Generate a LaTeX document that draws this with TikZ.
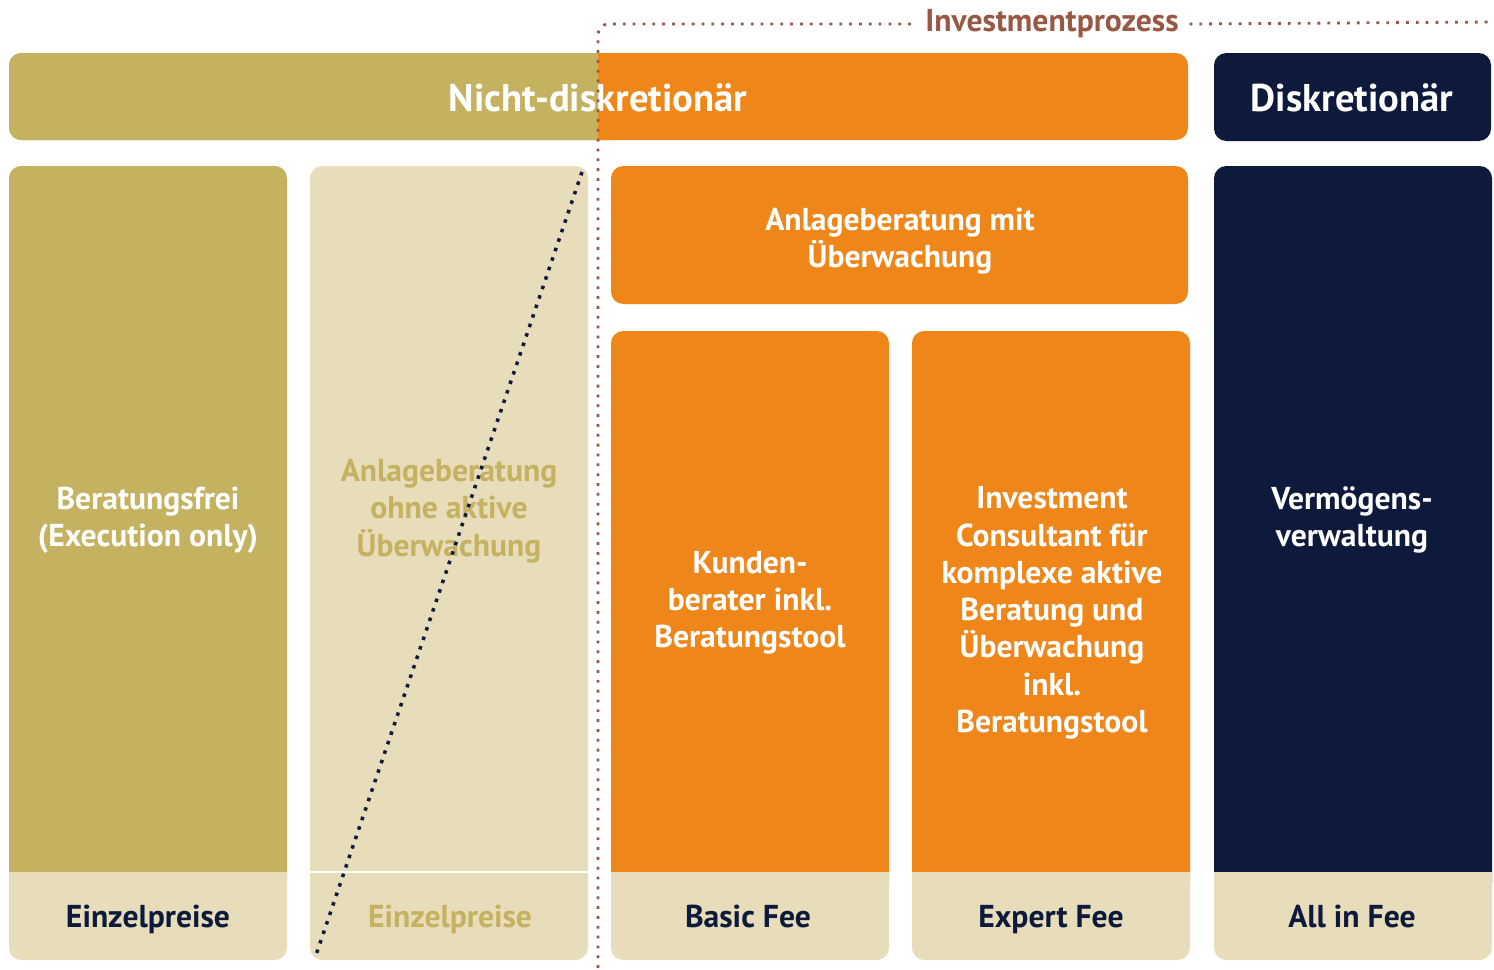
\documentclass[tikz,border=0pt]{standalone}
\usepackage{fontspec}
\setmainfont{PT Sans}
\usetikzlibrary{positioning}
\definecolor{olivegold}{HTML}{C4B261}
\definecolor{sand}{HTML}{E7DDBA}
\definecolor{orangefee}{HTML}{EF861A}
\definecolor{navy}{HTML}{0E1A3C}
\definecolor{procbrown}{HTML}{985843}

\begin{document}
\begin{tikzpicture}[x=0.02cm, y=-0.02cm,
  card/.style={rounded corners=7pt},
  boxtext/.style={text=white, font=\bfseries\fontsize{18}{21.2}\selectfont, align=center},
  feetext/.style={text=navy, font=\bfseries\fontsize{18}{21}\selectfont, anchor=base},
  headtext/.style={text=white, font=\bfseries\fontsize{22}{26}\selectfont},
  prozessline/.style={procbrown, line width=1.6pt, dash pattern=on 1.6pt off 4pt},
  schraegline/.style={navy, line width=2pt, dash pattern=on 2pt off 3.7pt}]
 \useasboundingbox (0,0) rectangle (1494,970);
 % Kopfzeile
 \fill[orangefee, card] (9,53) rectangle (1188,140);
 \fill[olivegold, card] (9,53) rectangle (630,140);
 \fill[orangefee] (598,53) rectangle (640,140);
 \node[headtext] (nichtdisk) at (598,98) {Nicht-diskretionär};
 \fill[navy, card] (1214,53) rectangle (1491,141);
 \node[headtext] (disk) at (1352,98) {Diskretionär};
 % Spalten mit Fussleiste
 \foreach \xa/\ya/\farbe in {9/166/olivegold, 611/331/orangefee, 912/331/orangefee, 1214/166/navy} {
  \fill[sand, card] (\xa,\ya) rectangle (\xa+278,960);
  \fill[\farbe, card] (\xa,\ya) rectangle (\xa+278,895);
  \fill[sand] (\xa,872) rectangle (\xa+278,905);
 }
 \fill[sand, card] (310,166) rectangle (588,960);
 \draw[white, line width=1.2pt] (310,872) -- (588,872);
 \fill[orangefee, card] (611,166) rectangle (1188,304);
 % Texte
 \node[boxtext] (frei) at (148,520) {Beratungsfrei\\(Execution only)};
 \node[boxtext, text=olivegold] (ohne) at (449,511) {Anlageberatung\\ohne aktive\\Überwachung};
 \node[boxtext] (mit) at (900,241) {Anlageberatung mit\\Überwachung};
 \node[boxtext] (kunden) at (750,603) {Kunden-\\berater inkl.\\Beratungstool};
 \node[boxtext] (consultant) at (1052,613) {Investment\\Consultant für\\komplexe aktive\\Beratung und\\Überwachung\\inkl.\\Beratungstool};
 \node[boxtext] (verm) at (1352,520) {Vermögens-\\verwaltung};
 \node[feetext] (fee1) at (148,927) {Einzelpreise};
 \node[feetext, text=olivegold] (fee2) at (450,927) {Einzelpreise};
 \node[feetext] (fee3) at (748,927) {Basic Fee};
 \node[feetext] (fee4) at (1051,927) {Expert Fee};
 \node[feetext] (fee5) at (1352,927) {All in Fee};
 % durchgestrichen
 \coordinate (schraegoben) at (582,172);
 \coordinate (schraegunten) at (316,955);
 \draw[schraegline] (schraegoben) -- (schraegunten);
 % Investmentprozess
 \coordinate (prozessfuss) at (598,968);
 \coordinate (prozessende) at (1494,22);
 \node[font=\bfseries\fontsize{18}{21}\selectfont, text=procbrown, inner xsep=6pt] (prozess) at (1052,24) {Investmentprozess};
 \draw[prozessline, rounded corners=6pt] (prozessfuss) |- (prozess.west);
 \draw[prozessline] (prozess.east) -- (prozessende);
\end{tikzpicture}
\end{document}
